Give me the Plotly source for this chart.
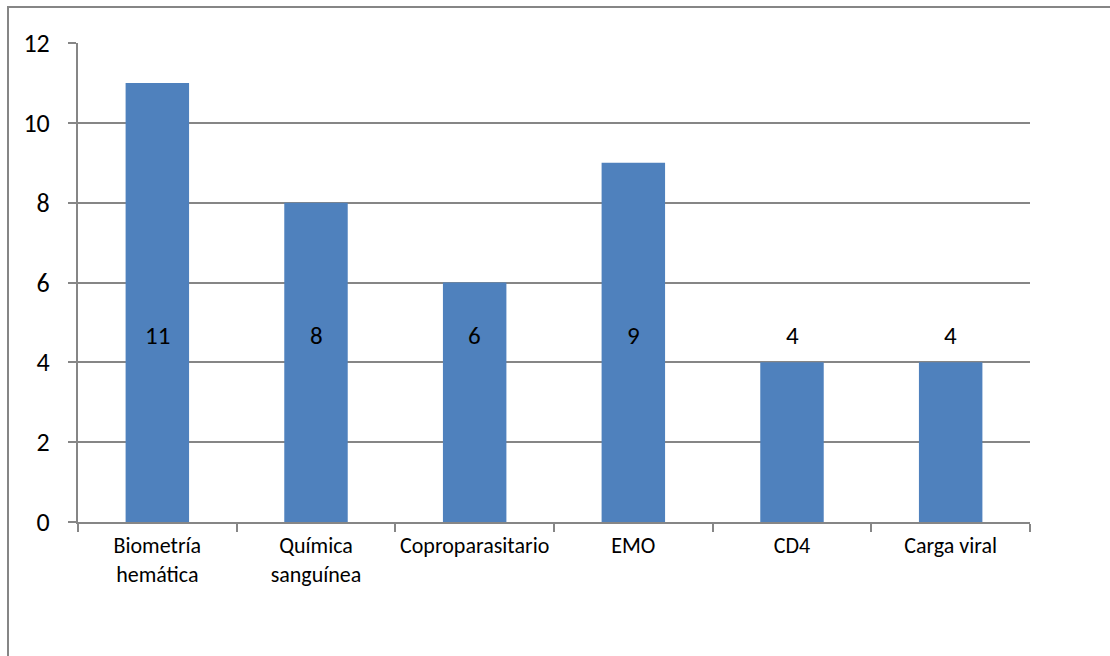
import plotly.graph_objects as go

categories = ["Biometría<br>hemática", "Química<br>sanguínea", "Coproparasitario", "EMO", "CD4", "Carga viral"]
values = [11, 8, 6, 9, 4, 4]
y_ticks = [0, 2, 4, 6, 8, 10, 12]
label_level = 4.68

W, H = 1110, 656
L, R, T, B = 78, 1030, 43, 522
pw, ph = R - L, B - T

FONT = "Carlito, Calibri, Lato, sans-serif"
GRID = "#868686"

fig = go.Figure()
fig.add_trace(go.Bar(x=categories, y=values, marker=dict(color="#4F81BD", line=dict(width=0)),
                     width=0.4, hoverinfo="x+y"))

for c, v in zip(categories, values):
    fig.add_annotation(x=c, y=label_level, text=str(v), showarrow=False,
                       font=dict(family=FONT, size=25, color="#000000"), yanchor="middle")

# outer chart border
fig.add_shape(type="rect", xref="paper", yref="paper",
              x0=(8 - L) / pw, x1=(W + 20 - L) / pw,
              y0=(B - (H + 20)) / ph, y1=(B - 7) / ph,
              line=dict(color=GRID, width=2), fillcolor="rgba(0,0,0,0)", layer="below")

fig.update_layout(
    width=W, height=H,
    margin=dict(l=L, r=W - R, t=T, b=H - B, pad=0),
    paper_bgcolor="white", plot_bgcolor="white",
    showlegend=False,
    font=dict(family=FONT, color="#000000"),
    xaxis=dict(type="category", showgrid=False, showline=True, linecolor=GRID, linewidth=2,
               ticks="outside", tickson="boundaries", ticklen=8, tickcolor=GRID, tickwidth=2,
               tickangle=0,
               tickfont=dict(family=FONT, size=22, color="#000000"), ticklabelstandoff=3,
               mirror=False),
    yaxis=dict(range=[0, 12], tickvals=y_ticks, showgrid=True, gridcolor=GRID, gridwidth=2,
               showline=True, linecolor=GRID, linewidth=2, ticks="outside", ticklen=8,
               tickcolor=GRID, tickwidth=2, zeroline=False,
               tickfont=dict(family=FONT, size=26, color="#000000"), ticklabelstandoff=13),
)

fig.write_html("out.html")
